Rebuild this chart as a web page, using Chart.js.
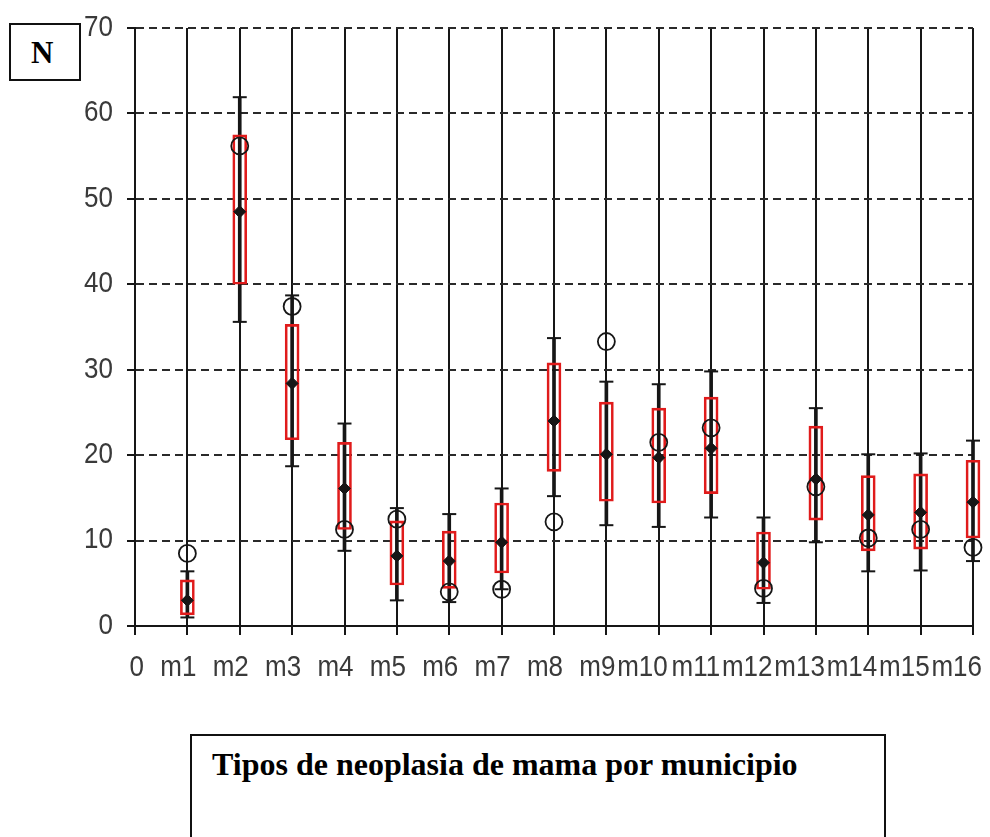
<!DOCTYPE html>
<html>
<head>
<meta charset="utf-8">
<title>Tipos de neoplasia de mama por municipio</title>
<script src="https://cdn.jsdelivr.net/npm/chart.js@4.4.0/dist/chart.umd.min.js"></script>
<style>
  html, body { margin: 0; padding: 0; background: #fff; }
  #wrap { position: relative; width: 990px; height: 837px; overflow: hidden; }
  #chart { position: absolute; left: 0; top: 0; }
  .frame { position: absolute; box-sizing: border-box; border: 2px solid #111; background: #fff; }
  .frame span { position: absolute; white-space: nowrap; font-family: "Liberation Serif", "Times New Roman", serif; font-weight: bold; color: #000; }
  #nbox { left: 9px; top: 23px; width: 72px; height: 58px; }
  #nbox span { left: 20px; top: 12px; font-size: 31px; line-height: 31px; }
  #titlebox { left: 190px; top: 734px; width: 696px; height: 130px; }
  #titlebox span { left: 20px; top: 12px; font-size: 32px; line-height: 32px; }
</style>
</head>
<body>
<div id="wrap">
  <canvas id="chart" width="990" height="837"></canvas>
  <div class="frame" id="nbox"><span>N</span></div>
  <div class="frame" id="titlebox"><span>Tipos de neoplasia de mama por municipio</span></div>
</div>
<script>
// Municipalities on the horizontal axis ("0" is the empty origin slot)
const municipios = ['0', 'm1', 'm2', 'm3', 'm4', 'm5', 'm6', 'm7', 'm8', 'm9', 'm10', 'm11', 'm12', 'm13', 'm14', 'm15', 'm16'];
const yTicks = [0, 10, 20, 30, 40, 50, 60, 70];

// Box limits (lower / upper edge of the red box)
const boxLow  = [null, 1.3, 40.0, 21.8, 11.3, 4.8, 4.4, 6.2, 18.1, 14.6, 14.4, 15.5, 4.3, 12.4, 8.8, 9.0, 10.3];
const boxHigh = [null, 5.4, 57.5, 35.3, 21.5, 12.3, 11.1, 14.4, 30.8, 26.2, 25.5, 26.8, 11.0, 23.4, 17.6, 17.8, 19.4];
// Whisker ends
const whiskerLow  = [null, 1.0, 35.6, 18.7, 8.8, 3.0, 2.8, 4.3, 15.2, 11.8, 11.6, 12.7, 2.7, 9.8, 6.4, 6.5, 7.6];
const whiskerHigh = [null, 6.4, 61.9, 38.7, 23.7, 13.8, 13.1, 16.1, 33.7, 28.6, 28.3, 29.8, 12.7, 25.5, 20.1, 20.2, 21.7];
// Centre value (filled diamond) and observed value (open circle)
const centro    = [null, 3.0, 48.5, 28.4, 16.1, 8.2, 7.6, 9.8, 24.0, 20.1, 19.7, 20.8, 7.4, 17.2, 13.0, 13.3, 14.5];
const observado = [null, 8.5, 56.2, 37.4, 11.3, 12.5, 4.0, 4.3, 12.2, 33.3, 21.5, 23.2, 4.4, 16.3, 10.3, 11.3, 9.2];

const pairs = (lo, hi) => lo.map((v, i) => (v === null ? null : [v, hi[i]]));

const INK = '#161616';
const RED = '#e01b1b';

// Tick labels drawn with a slightly tall sans face
const tickLabels = {
  id: 'tickLabels',
  afterDraw(chart) {
    const ctx = chart.ctx;
    const xs = chart.scales.x, ys = chart.scales.y;
    const sy = 1.1;
    ctx.save();
    ctx.fillStyle = '#3a3a3a';
    ctx.font = '26px "Liberation Sans", Arial, sans-serif';
    ctx.textBaseline = 'middle';
    ctx.textAlign = 'right';
    yTicks.forEach(v => {
      const py = ys.getPixelForValue(v);
      ctx.save();
      ctx.translate(113, py);
      ctx.scale(1, sy);
      ctx.fillText(String(v), 0, 0);
      ctx.restore();
    });
    municipios.forEach((lab, i) => {
      const px = xs.getPixelForValue(i);
      ctx.save();
      ctx.translate(px + 9, 668);
      ctx.scale(1, sy);
      ctx.fillText(lab, 0, 0);
      ctx.restore();
    });
    ctx.restore();
  }
};

new Chart(document.getElementById('chart'), {
  data: {
    labels: municipios,
    datasets: [
      {
        type: 'bar',
        data: pairs(whiskerLow, whiskerHigh),
        backgroundColor: INK,
        borderWidth: 0,
        barThickness: 3,
        grouped: false,
        clip: false,
        order: 6
      },
      {
        type: 'line',
        data: whiskerLow,
        showLine: false,
        pointStyle: 'line',
        pointRadius: 7,
        pointBorderWidth: 2,
        pointBorderColor: INK,
        clip: false,
        order: 5
      },
      {
        type: 'line',
        data: whiskerHigh,
        showLine: false,
        pointStyle: 'line',
        pointRadius: 7,
        pointBorderWidth: 2,
        pointBorderColor: INK,
        clip: false,
        order: 5
      },
      {
        type: 'bar',
        data: pairs(boxLow, boxHigh),
        backgroundColor: 'rgba(0,0,0,0)',
        borderColor: RED,
        borderWidth: 2,
        borderSkipped: false,
        barThickness: 14,
        grouped: false,
        clip: false,
        order: 4
      },
      {
        type: 'line',
        data: observado,
        showLine: false,
        pointStyle: 'circle',
        pointRadius: 8.5,
        pointBorderWidth: 1.8,
        pointBorderColor: INK,
        pointBackgroundColor: 'rgba(0,0,0,0)',
        clip: false,
        order: 3
      },
      {
        type: 'line',
        data: centro,
        showLine: false,
        pointStyle: 'rectRot',
        pointRadius: 6,
        pointBorderWidth: 1,
        pointBorderColor: INK,
        pointBackgroundColor: INK,
        clip: false,
        order: 2
      }
    ]
  },
  options: {
    responsive: false,
    devicePixelRatio: 1,
    animation: false,
    events: [],
    layout: { padding: { left: 127, right: 17, top: 28, bottom: 202 } },
    plugins: { legend: { display: false }, tooltip: { enabled: false }, title: { display: false } },
    scales: {
      x: {
        type: 'category',
        offset: false,
        grid: { offset: false, color: INK, lineWidth: 2, drawTicks: true, tickLength: 9, tickColor: INK },
        border: { display: true, color: INK, width: 2 },
        ticks: { display: false }
      },
      y: {
        type: 'linear',
        min: 0,
        max: 70,
        ticks: { display: false, stepSize: 10 },
        grid: { color: '#2a2a2a', lineWidth: 2, drawTicks: true, tickLength: 8, tickColor: INK, tickBorderDash: [] },
        border: { display: true, color: INK, width: 2, dash: [8, 5] }
      }
    }
  },
  plugins: [tickLabels]
});
</script>
</body>
</html>
